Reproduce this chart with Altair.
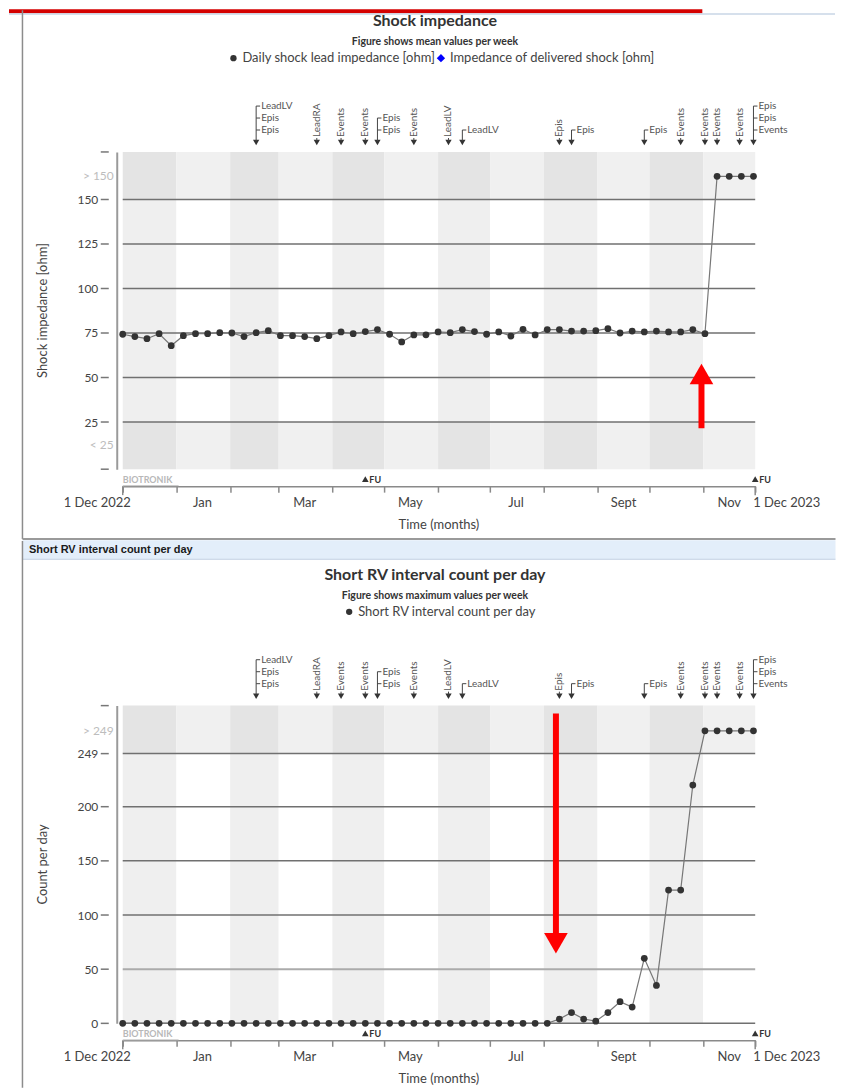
import altair as alt
import pandas as pd

# ------------------------------------------------------------------ data
START, END = "2022-12-01", "2023-12-01"
week_dates = pd.date_range(START, periods=53, freq="7D")   # weekly summary points

# Shock impedance, weekly mean [ohm]; ">150" = shown in the out-of-range band
impedance = [74.3, 73.0, 71.8, 74.6, 67.9, 73.5, 74.6, 74.6, 75.2, 75.0,
             73.0, 75.2, 76.3, 73.5, 73.5, 73.0, 71.8, 73.5, 75.6, 74.6,
             75.8, 76.9, 74.3, 70.0, 73.9, 74.0, 75.6, 75.2, 76.9, 75.8,
             74.3, 75.6, 73.3, 77.1, 73.9, 76.9, 76.9, 76.1, 76.1, 76.3,
             77.4, 75.0, 76.1, 75.6, 76.1, 75.6, 75.6, 76.9, 74.6,
             ">150", ">150", ">150", ">150"]

# Short RV interval count per day, weekly maximum; ">249" = out-of-range band
rv_count = [0, 0, 0, 0, 0, 0, 0, 0, 0, 0,
            0, 0, 0, 0, 0, 0, 0, 0, 0, 0,
            0, 0, 0, 0, 0, 0, 0, 0, 0, 0,
            0, 0, 0, 0, 0, 0,
            4, 10, 4, 2, 10, 20, 15, 60, 35, 123, 123, 220,
            ">249", ">249", ">249", ">249", ">249"]

# event markers above the plots
ann_dates = ["2023-02-16", "2023-03-23", "2023-04-06", "2023-04-20", "2023-04-27",
             "2023-05-18", "2023-06-07", "2023-06-15", "2023-08-10", "2023-08-17",
             "2023-09-28", "2023-10-19", "2023-11-02", "2023-11-09", "2023-11-22",
             "2023-11-30"]
ann_labels = [["LeadLV", "Epis", "Epis"], ["LeadRA"], ["Events"], ["Events"],
              ["Epis", "Epis"], ["Events"], ["LeadLV"], ["LeadLV"], ["Epis"],
              ["Epis"], ["Epis"], ["Events"], ["Events"], ["Events"], ["Events"],
              ["Epis", "Epis", "Events"]]
ann_rotated = [False, True, True, True, False, True, True, False, True, False,
               False, True, True, True, True, False]

fu_dates = ["2023-04-20", "2023-12-01"]
month_starts = pd.date_range(START, END, freq="MS")
xlab_text = ["1 Dec 2022", "Jan", "Mar", "May", "Jul", "Sept", "Nov", "1 Dec 2023"]
xlab_dates = ["2022-12-01", "2023-01-16", "2023-03-16", "2023-05-16",
              "2023-07-16", "2023-09-16", "2023-11-16", "2023-12-01"]

# red highlight arrows drawn over the screenshot
red1_date, red1_tail, red1_shaft_end, red1_tip = "2023-10-31", 21.5, 47, 52
red2_date, red2_tail, red2_shaft_end, red2_tip = "2023-08-08", 286, 80, 74

# ------------------------------------------------------------------ helpers
FONT = "Lato"
W = 634


def dnum(d):
    return (pd.Timestamp(d) - pd.Timestamp(START)).days


XS = alt.Scale(domain=[0, dnum(END)], nice=False, zero=False)
month_days = [dnum(d) for d in month_starts]
XAXIS = alt.Axis(values=month_days, labels=False, offset=17, tickSize=6,
                 tickColor="#8a8a8a", tickWidth=1.5, domainColor="#8a8a8a",
                 domainWidth=1.5, grid=False, title=None)
one = pd.DataFrame({"k": [0]})


def xq(f):
    return alt.X(f"{f}:Q", scale=XS, axis=XAXIS)


def txt(s, x, y, size=12, weight="normal", align="center", color="#333333",
        angle=0, font=FONT):
    kw = dict(text=s, fontSize=size, fontWeight=weight, align=align,
              color=color, font=font, baseline="middle")
    if angle:
        kw["angle"] = angle
    return alt.Chart(one).mark_text(**kw).encode(x=alt.value(x), y=alt.value(y))


def box(x0, x1, y0, y1, color):
    return alt.Chart(one).mark_rect(color=color).encode(
        x=alt.value(x0), x2=alt.value(x1), y=alt.value(y0), y2=alt.value(y1))


def hline(x0, x1, y, color, w):
    return alt.Chart(one).mark_rule(color=color, strokeWidth=w).encode(
        x=alt.value(x0), x2=alt.value(x1), y=alt.value(y))


def vline(x, y0, y1, color, w, opacity=1):
    return alt.Chart(one).mark_rule(color=color, strokeWidth=w, opacity=opacity).encode(
        x=alt.value(x), y=alt.value(y0), y2=alt.value(y1))


ann_rows, ann_pts = [], []
for d, labs, rot in zip(ann_dates, ann_labels, ann_rotated):
    n = len(labs)
    ann_pts.append({"day": dnum(d), "rot": rot, "n": n})
    for j, lab in enumerate(labs):
        ann_rows.append({"day": dnum(d), "label": lab, "rot": rot, "n": n, "r": n - 1 - j})
ann_df = pd.DataFrame(ann_rows)
ann_pt_df = pd.DataFrame(ann_pts)


def annotation_layers():
    L = []
    L.append(alt.Chart(ann_pt_df).mark_point(shape="triangle-down", filled=True, size=40,
                                             color="#333333", opacity=1)
             .encode(x=xq("day"), y=alt.value(-9.5)))
    L.append(alt.Chart(ann_pt_df).transform_filter("datum.rot")
             .mark_rule(color="#444444", strokeWidth=1)
             .encode(x=xq("day"), y=alt.value(-14), y2=alt.value(-11)))
    for k in (1, 2, 3):
        L.append(alt.Chart(ann_pt_df).transform_filter(f"!datum.rot && datum.n == {k}")
                 .mark_rule(color="#444444", strokeWidth=1)
                 .encode(x=xq("day"), y=alt.value(-22 - 12 * (k - 1)), y2=alt.value(-11)))
    for r in (0, 1, 2):
        yy = -22 - 12 * r
        L.append(alt.Chart(ann_df).transform_filter(f"!datum.rot && datum.r == {r}")
                 .mark_rule(color="#444444", strokeWidth=1, x2Offset=4)
                 .encode(x=xq("day"), x2=alt.X2("day"), y=alt.value(yy)))
        L.append(alt.Chart(ann_df).transform_filter(f"!datum.rot && datum.r == {r}")
                 .mark_text(align="left", baseline="middle", dx=5, font=FONT,
                            fontSize=10, color="#555555")
                 .encode(x=xq("day"), y=alt.value(yy), text="label:N"))
    L.append(alt.Chart(ann_df).transform_filter("datum.rot")
             .mark_text(angle=270, align="left", baseline="middle", font=FONT,
                        fontSize=10, color="#555555")
             .encode(x=xq("day"), y=alt.value(-15), text="label:N"))
    return L


def xaxis_layers(H):
    L = []
    ends = pd.DataFrame({"day": [dnum(START), dnum(END)]})
    L.append(alt.Chart(ends).mark_rule(color="#8a8a8a", strokeWidth=1.5)
             .encode(x=xq("day"), y=alt.value(H + 17), y2=alt.value(H + 26)))
    fu = pd.DataFrame({"day": [dnum(d) for d in fu_dates]})
    L.append(alt.Chart(fu).mark_point(shape="triangle-up", filled=True, size=45,
                                      color="#333333", opacity=1)
             .encode(x=xq("day"), y=alt.value(H + 10)))
    L.append(alt.Chart(fu).mark_text(text="FU", align="left", dx=4, font=FONT,
                                     fontSize=9, fontWeight="bold", color="#333333")
             .encode(x=xq("day"), y=alt.value(H + 10.5)))
    L.append(txt("BIOTRONIK", 0, H + 11, size=9, weight="bold", align="left",
                 color="#b8b8b8"))
    L.append(hline(0, 56, H + 16.5, "#c4c4c4", 1))
    xl = pd.DataFrame({"day": [dnum(d) for d in xlab_dates], "t": xlab_text,
                       "i": range(len(xlab_text))})
    last = len(xlab_text) - 1
    for flt, al, dx in (("datum.i == 0", "right", 8),
                        (f"datum.i > 0 && datum.i < {last}", "center", 0),
                        (f"datum.i == {last}", "left", -2)):
        L.append(alt.Chart(xl).transform_filter(flt)
                 .mark_text(align=al, dx=dx, baseline="middle", font=FONT,
                            fontSize=13, color="#444444")
                 .encode(x=xq("day"), y=alt.value(H + 34), text="t:N"))
    L.append(txt("Time (months)", W / 2, H + 56, size=13, color="#444444"))
    return L


def panel(values, over_pos, ydom, H, regions, grid_dark, grid_light, stubs,
          yticks, muted, title, subtitle, legend, ytitle,
          red_date, red_tail, red_shaft_end, red_tip, red_shape):
    ys = alt.Scale(domain=ydom, nice=False, zero=False)
    yaxis = alt.Axis(values=yticks, offset=6, ticks=False, tickSize=0,
                     grid=False, domainColor="#9a9a9a", domainWidth=2, labelFont=FONT,
                     labelFontSize=12, labelPadding=19, labelOverlap=False, title=None,
                     labelColor="#444444")

    def yq(f):
        return alt.Y(f"{f}:Q", scale=ys, axis=yaxis)

    rows = []
    for i in range(len(month_starts) - 1):
        for lo, hi, outer in regions:
            rows.append(dict(x0=month_days[i], x1=month_days[i + 1], lo=lo, hi=hi,
                             shade=("o" if outer else "i") + str(i % 2)))
    bands = alt.Chart(pd.DataFrame(rows)).mark_rect().encode(
        x=xq("x0"), x2="x1:Q", y=yq("lo"), y2="hi:Q",
        color=alt.Color("shade:N", legend=None,
                        scale=alt.Scale(domain=["i0", "i1", "o0", "o1"],
                                        range=["#efefef", "#ffffff", "#e4e4e4", "#f0f0f0"])))

    gd = alt.Chart(pd.DataFrame({"v": grid_dark})).mark_rule(color="#707070", strokeWidth=1.5) \
        .encode(y=yq("v"), x=alt.value(0), x2=alt.value(W))
    layers = [bands, gd]
    if grid_light:
        layers.append(alt.Chart(pd.DataFrame({"v": grid_light}))
                      .mark_rule(color="#ababab", strokeWidth=2)
                      .encode(y=yq("v"), x=alt.value(0), x2=alt.value(W)))
    layers.append(alt.Chart(pd.DataFrame({"v": stubs})).mark_rule(color="#777777", strokeWidth=1.5)
                  .encode(y=yq("v"), x=alt.value(-22), x2=alt.value(-14)))
    # out-of-range band labels (">150", "< 25", ...)
    mdf = pd.DataFrame({"v": [m[0] for m in muted], "t": [m[1] for m in muted]})
    layers.append(alt.Chart(mdf).mark_text(align="right", baseline="middle", font=FONT,
                                           fontSize=12, color="#bdbdbd")
                  .encode(y=yq("v"), x=alt.value(-9), text="t:N"))

    df = pd.DataFrame({"day": [dnum(d) for d in week_dates],
                       "y": [over_pos if isinstance(v, str) else v for v in values]})
    layers.append(alt.Chart(df).mark_line(color="#777777", strokeWidth=1.2)
                  .encode(x=xq("day"), y=yq("y")))
    layers.append(alt.Chart(df).mark_circle(size=46, color="#333333", opacity=1)
                  .encode(x=xq("day"), y=yq("y")))

    # red highlight arrow
    rd = pd.DataFrame({"day": [dnum(red_date)], "a": [red_tail], "b": [red_shaft_end],
                       "t": [red_tip]})
    layers.append(alt.Chart(rd).mark_rule(color="#ff0000", strokeWidth=6)
                  .encode(x=xq("day"), y=yq("a"), y2="b:Q"))
    layers.append(alt.Chart(rd).mark_point(shape=red_shape, filled=True, size=560,
                                           color="#ff0000", opacity=1)
                  .encode(x=xq("day"), y=yq("t")))

    layers += annotation_layers()
    layers += xaxis_layers(H)

    # titles / legend
    layers.append(txt(title, 313, -131, size=16, weight="bold", color="#333333"))
    layers.append(txt(subtitle, 313, -110, size=10.5, weight="bold", color="#333333"))
    for kind, x, label in legend:
        if kind == "circle":
            layers.append(alt.Chart(one).mark_circle(size=40, color="#333333", opacity=1)
                          .encode(x=alt.value(x), y=alt.value(-94)))
        else:
            layers.append(alt.Chart(one).mark_point(shape="diamond", filled=True, size=70,
                                                    color="#0000ff", opacity=1)
                          .encode(x=alt.value(x), y=alt.value(-94)))
        layers.append(txt(label, x + 9, -94, size=13, align="left", color="#444444"))
    layers.append(txt(ytitle, -80, H / 2, size=13, color="#444444", angle=270))
    return layers


# ------------------------------------------------------------------ panel 1
H1 = 318
p1 = panel(impedance, 163, [-1.5, 176.7], H1,
           regions=[(-1.5, 25, True), (25, 150, False), (150, 176.7, True)],
           grid_dark=[25, 50, 75, 100, 125, 150], grid_light=[],
           stubs=[-1.5, 25, 50, 75, 100, 125, 150, 176.7],
           yticks=[25, 50, 75, 100, 125, 150],
           muted=[(163, "> 150"), (12, "< 25")],
           title="Shock impedance", subtitle="Figure shows mean values per week",
           legend=[("circle", 111, "Daily shock lead impedance [ohm]"),
                   ("diamond", 319, "Impedance of delivered shock [ohm]")],
           ytitle="Shock impedance [ohm]",
           red_date=red1_date, red_tail=red1_tail, red_shaft_end=red1_shaft_end,
           red_tip=red1_tip, red_shape="triangle-up")
# page chrome for panel 1
p1 = [box(-114, 581, -143, -139, "#d40000"),
      hline(-114, 714, -138.3, "#c9d6e6", 1.5),
      vline(-100.5, -142, 388, "#8c8c8c", 1.5),
      hline(-100.5, 714.5, 388, "#9a9a9a", 2)] + p1
c1 = alt.layer(*p1).properties(width=W, height=H1)

# ------------------------------------------------------------------ panel 2
H2 = 318.5
p2 = panel(rv_count, 270, [0, 293.3], H2,
           regions=[(0, 249, False), (249, 293.3, True)],
           grid_dark=[0, 100, 150, 200, 249], grid_light=[50],
           stubs=[0, 50, 100, 150, 200, 249, 293.3],
           yticks=[0, 50, 100, 150, 200, 249],
           muted=[(270, "> 249")],
           title="Short RV interval count per day",
           subtitle="Figure shows maximum values per week",
           legend=[("circle", 227, "Short RV interval count per day")],
           ytitle="Count per day",
           red_date=red2_date, red_tail=red2_tail, red_shaft_end=red2_shaft_end,
           red_tip=red2_tip, red_shape="triangle-down")
p2 = [vline(-114, -150, -149, "#ffffff", 1, opacity=0),
      box(-100.5, 714.5, -165.7, -146.7, "#e3eefa"),
      hline(-100.5, 714.5, -146.7, "#c2d0e2", 1),
      vline(-100.5, -165, 383, "#8c8c8c", 1.5),
      txt("Short RV interval count per day", -94, -156, size=11, weight="bold",
          align="left", color="#1a1a1a", font="Liberation Sans")] + p2
c2 = alt.layer(*p2).properties(width=W, height=H2)

chart = (alt.vconcat(c1, c2, spacing=0)
         .properties(padding={"left": 0, "top": 0, "right": 0, "bottom": 0})
         .configure_view(stroke=None))

chart.save("out.html", embed_options={"renderer": "svg", "actions": False})
